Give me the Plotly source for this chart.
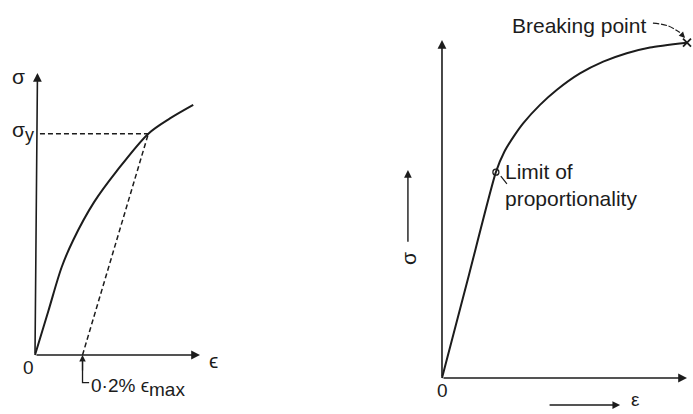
import plotly.graph_objects as go

INK = "#1c1c1c"
FONT = "Liberation Sans"

# ---------------- left diagram: offset (proof) stress ----------------
left_strain = [0, 0.81, 1.62, 2.32, 3.58, 4.95, 6.87, 8.18, 9.59]
left_stress = [0, 1.56, 3.12, 4.08, 5.42, 6.52, 7.85, 8.39, 8.87]
yield_strain = 6.87
yield_stress = 7.85
offset_strain = 2.88
left_axis_len = 10

# ---------------- right diagram: stress-strain to fracture ----------------
right_strain = [0, 1.10, 2.20, 2.55, 2.95, 3.32, 4.00, 4.68, 5.63, 6.58, 7.54, 8.49, 10.0]
right_stress = [0, 3.05, 6.09, 6.70, 7.17, 7.54, 8.08, 8.52, 9.01, 9.36, 9.61, 9.78, 9.92]
prop_limit = (2.20, 6.09)
break_point = (10.0, 9.92)
right_axis_len = 10
break_leader_x = [8.61, 9.22, 9.71]
break_leader_y = [10.50, 10.42, 10.22]

fig = go.Figure()

# left curve
fig.add_trace(go.Scatter(x=left_strain, y=left_stress, mode="lines",
                         line=dict(color=INK, width=2, shape="spline", smoothing=0.9),
                         xaxis="x", yaxis="y", hoverinfo="skip"))
# yield dashed horizontal
fig.add_trace(go.Scatter(x=[0.3, yield_strain], y=[yield_stress, yield_stress], mode="lines",
                         line=dict(color=INK, width=1.5, dash="5px,3px"),
                         xaxis="x", yaxis="y", hoverinfo="skip"))
# offset dashed line parallel to elastic part
fig.add_trace(go.Scatter(x=[offset_strain, yield_strain], y=[0, yield_stress], mode="lines",
                         line=dict(color=INK, width=1.5, dash="5px,3px"),
                         xaxis="x", yaxis="y", hoverinfo="skip"))
# leader for 0.2% label
fig.add_trace(go.Scatter(x=[offset_strain, offset_strain, offset_strain + 0.4],
                         y=[-0.25, -0.98, -0.98], mode="lines",
                         line=dict(color=INK, width=1.3),
                         xaxis="x", yaxis="y", hoverinfo="skip"))

# right curve
fig.add_trace(go.Scatter(x=right_strain, y=right_stress, mode="lines",
                         line=dict(color=INK, width=2, shape="spline", smoothing=0.6),
                         xaxis="x2", yaxis="y2", hoverinfo="skip"))
# limit of proportionality marker
fig.add_trace(go.Scatter(x=[prop_limit[0]], y=[prop_limit[1]], mode="markers",
                         marker=dict(symbol="circle-open", size=6, color=INK, line=dict(width=1.3)),
                         xaxis="x2", yaxis="y2", hoverinfo="skip"))
fig.add_trace(go.Scatter(x=[prop_limit[0] + 0.2, prop_limit[0] + 0.45],
                         y=[prop_limit[1] - 0.12, prop_limit[1] - 0.35], mode="lines",
                         line=dict(color=INK, width=1.2),
                         xaxis="x2", yaxis="y2", hoverinfo="skip"))
# breaking point marker and curved leader
fig.add_trace(go.Scatter(x=[break_point[0]], y=[break_point[1]], mode="markers",
                         marker=dict(symbol="x-thin-open", size=8, color=INK, line=dict(width=1.8, color=INK)),
                         xaxis="x2", yaxis="y2", hoverinfo="skip"))
fig.add_trace(go.Scatter(x=break_leader_x, y=break_leader_y, mode="lines",
                         line=dict(color=INK, width=1.2, shape="spline", dash="6px,2px"),
                         xaxis="x2", yaxis="y2", hoverinfo="skip"))

def arrow(x, y, ax, ay, xr, yr, head=2, size=1.1, width=1.6):
    return dict(x=x, y=y, ax=ax, ay=ay, xref=xr, yref=yr, axref=xr, ayref=yr,
                showarrow=True, arrowhead=head, arrowsize=size, arrowwidth=width,
                arrowcolor=INK, standoff=0, startstandoff=0, text="")

def label(x, y, text, xr, yr, size=20, xanchor="center", yanchor="middle", angle=0, align="center"):
    return dict(x=x, y=y, xref=xr, yref=yr, text=text, showarrow=False,
                font=dict(family=FONT, size=size, color=INK),
                xanchor=xanchor, yanchor=yanchor, textangle=angle, align=align)

annotations = [
    # left axes
    arrow(left_axis_len, 0, 0, 0, "x", "y"),
    arrow(0.15, left_axis_len, 0, 0, "x", "y"),
    arrow(offset_strain, 0, offset_strain, -0.6, "x", "y", size=1.0, width=1.3),
    label(-1.03, 9.86, "σ", "x", "y", size=21),
    label(-0.73, 7.94, "σ<sub><span style='font-size:18px'>y</span></sub>", "x", "y", size=21),
    label(-0.42, -0.46, "0", "x", "y", size=19),
    label(10.79, -0.18, "ϵ", "x", "y", size=21),
    label(offset_strain + 0.42, -1.15,
          "0·2% ϵ<sub><span style='font-size:19px'>max</span></sub>", "x", "y",
          size=19, xanchor="left"),
    # right axes
    arrow(right_axis_len, 0, 0, 0, "x2", "y2"),
    arrow(0, right_axis_len, 0, 0, "x2", "y2"),
    arrow(-1.39, 6.15, -1.39, 3.99, "x2", "y2", width=1.4),
    arrow(7.27, -0.80, 4.33, -0.80, "x2", "y2", width=1.4),
    arrow(9.92, 10.06, break_leader_x[-1], break_leader_y[-1], "x2", "y2", head=2, size=1.0, width=1.2),
    label(-1.39, 3.55, "σ", "x2", "y2", size=21, angle=-90),
    label(0.04, -0.36, "0", "x2", "y2", size=19),
    label(7.88, -0.64, "ε", "x2", "y2", size=19),
    label(5.59, 10.44, "Breaking point", "x2", "y2", size=21),
    label(2.49, 5.71, "Limit of<br>proportionality", "x2", "y2", size=21,
          xanchor="left", align="left"),
]

fig.update_layout(
    width=693, height=414,
    margin=dict(l=0, r=0, t=0, b=0),
    paper_bgcolor="white", plot_bgcolor="white",
    showlegend=False,
    annotations=annotations,
    xaxis=dict(domain=[0, 240 / 693], range=[-2.121, 12.424], visible=False, fixedrange=True),
    yaxis=dict(domain=[0, 1], range=[-2.092, 12.589], visible=False, fixedrange=True),
    xaxis2=dict(domain=[390 / 693, 1], range=[-2.122, 10.245], visible=False, fixedrange=True),
    yaxis2=dict(domain=[0, 1], range=[-1.065, 11.183], visible=False, fixedrange=True, anchor="x2"),
)

fig.write_html("out.html", config={"displayModeBar": False},
               post_script="document.body.style.margin='0px';")
